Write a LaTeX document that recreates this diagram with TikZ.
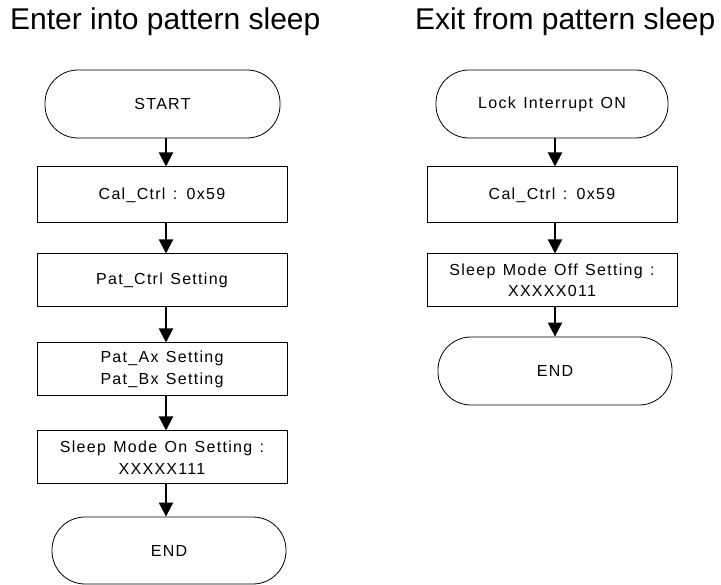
\documentclass[tikz,border=0pt]{standalone}
\usepackage{fontspec}
\setmainfont{Liberation Sans}
\newfontfamily\boxfont[LetterSpace=8,WordSpace=1.3]{Liberation Sans}
\usetikzlibrary{arrows.meta}
\begin{document}
\begin{tikzpicture}[x=1pt,y=-1pt,
  box/.style={draw, line width=1pt, minimum width=250pt, inner sep=0pt,
    font=\boxfont\fontsize{16}{21.5}\selectfont, align=center},
  term/.style={draw, line width=0.8pt, rounded corners=33pt, inner sep=0pt,
    font=\boxfont\fontsize{16}{21.5}\selectfont, align=center},
  arr/.style={line width=2pt, -{Triangle[length=14pt,width=14pt]}},
  title/.style={anchor=base west, inner sep=0pt, font=\fontsize{30}{36}\selectfont}]
\useasboundingbox (0,0) rectangle (721,585);
% titles
\node[title] (t1) at (10,29.5) {Enter into pattern sleep};
\node[title] (t2) at (415,29.5) {Exit from pattern sleep};
% left column
\node[term, minimum width=235pt, minimum height=68pt] (start) at (162.5,104) {START};
\node[box, minimum height=56pt] (cal1) at (162,195) {Cal\_Ctrl : 0x59};
\node[box, minimum height=53pt] (pat) at (162,280.5) {Pat\_Ctrl Setting};
\node[box, minimum height=53pt] (patab) at (162,369.5) {Pat\_Ax Setting\\Pat\_Bx Setting};
\node[box, minimum height=53pt] (sleep1) at (162,457.5) {Sleep Mode On Setting :\\XXXXX111};
\node[term, minimum width=234pt, minimum height=67pt] (end1) at (169,550.5) {END};
\coordinate (axL) at (166,0);
\draw[arr] (start.south -| axL) -- (cal1.north -| axL);
\draw[arr] (cal1.south -| axL) -- (pat.north -| axL);
\draw[arr] (pat.south -| axL) -- (patab.north -| axL);
\draw[arr] (patab.south -| axL) -- (sleep1.north -| axL);
\draw[arr] (sleep1.south -| axL) -- (end1.north -| axL);
% right column
\node[term, minimum width=232pt, minimum height=68pt] (lock) at (552,104) {Lock Interrupt ON};
\node[box, minimum height=56pt] (cal2) at (552,195) {Cal\_Ctrl : 0x59};
\node[box, minimum height=53pt] (sleep2) at (552,280.5) {Sleep Mode Off Setting :\\XXXXX011};
\node[term, minimum width=234pt, minimum height=68pt] (end2) at (555,371) {END};
\coordinate (axR) at (555,0);
\draw[arr] (lock.south -| axR) -- (cal2.north -| axR);
\draw[arr] (cal2.south -| axR) -- (sleep2.north -| axR);
\draw[arr] (sleep2.south -| axR) -- (end2.north -| axR);
\end{tikzpicture}
\end{document}
